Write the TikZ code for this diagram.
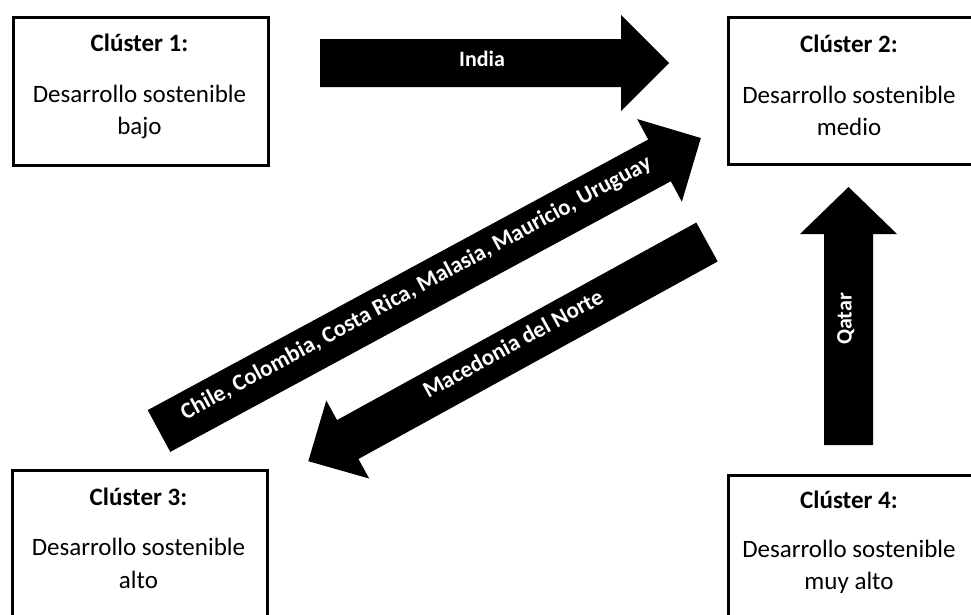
\documentclass[tikz,border=0pt]{standalone}
\usepackage{fontspec}
\setmainfont{Carlito}
\begin{document}
\begin{tikzpicture}[x=1pt,y=-1pt,
  box/.style={draw=black, line width=2.8pt, rectangle, inner sep=0pt, anchor=north west},
  ttl/.style={font=\fontsize{25}{30}\selectfont\bfseries, anchor=base, inner sep=0pt},
  txt/.style={font=\fontsize{25}{30}\selectfont, anchor=base, inner sep=0pt},
  albl/.style={font=\fontsize{22}{26}\selectfont\bfseries, text=white, inner sep=0pt, text height=0.64em, text depth=0pt},
  dlbl/.style={albl, font=\fontsize{23}{27}\selectfont\bfseries},
  blk/.style={fill=black}
]
\useasboundingbox (0,0) rectangle (971,614);
\clip (0,0) rectangle (971,614);

% boxes
\node[box, minimum width=255pt, minimum height=148pt] (b1) at (12,16) {};
\node[box, minimum width=250pt, minimum height=147pt] (b2) at (727,16) {};
\node[box, minimum width=255pt, minimum height=150pt] (b3) at (11,469) {};
\node[box, minimum width=250pt, minimum height=150pt] (b4) at (727,474) {};

\node[ttl] (t1) at (139.5,51) {Clúster 1:};
\node[txt] (d1) at (139.5,102) {Desarrollo sostenible};
\node[txt] (e1) at (139.5,134) {bajo};

\node[ttl] (t2) at (849,52) {Clúster 2:};
\node[txt] (d2) at (849,103) {Desarrollo sostenible};
\node[txt] (e2) at (849,135) {medio};

\node[ttl] (t3) at (138.5,505) {Clúster 3:};
\node[txt] (d3) at (138.5,555) {Desarrollo sostenible};
\node[txt] (e3) at (138.5,588) {alto};

\node[ttl] (t4) at (849,508) {Clúster 4:};
\node[txt] (d4) at (849,557) {Desarrollo sostenible};
\node[txt] (e4) at (849,589) {muy alto};

% India arrow
\begin{scope}[shift={(320,63)}]
\fill[blk] (0,-24) -- (301,-24) -- (301,-48) -- (349,0) -- (301,48) -- (301,24) -- (0,24) -- cycle;
\node[albl] (lIndia) at (162,0) {India};
\end{scope}

% Chile ... arrow
\begin{scope}[shift={(159,431)}, rotate=28.4]
\fill[blk] (0,-23.75) -- (569,-23.75) -- (569,-47) -- (616,0) -- (569,47) -- (569,23.75) -- (0,23.75) -- cycle;
\node[dlbl, rotate=28.4] (lChile) at (294,0) {Chile, Colombia, Costa Rica, Malasia, Mauricio, Uruguay};
\end{scope}

% Macedonia arrow
\begin{scope}[shift={(707,242)}, rotate=208.8]
\fill[blk] (0,-22.2) -- (410,-22.2) -- (410,-44.5) -- (455,0) -- (410,44.5) -- (410,22.2) -- (0,22.2) -- cycle;
\node[dlbl, rotate=28.8] (lMac) at (219,0) {Macedonia del Norte};
\end{scope}

% Qatar arrow
\begin{scope}[shift={(848.5,445)}, rotate=90]
\fill[blk] (0,-24.5) -- (211,-24.5) -- (211,-48.5) -- (258,0) -- (211,48.5) -- (211,24.5) -- (0,24.5) -- cycle;
\node[albl, rotate=90] (lQatar) at (126,0) {Qatar};
\end{scope}
\end{tikzpicture}
\end{document}
